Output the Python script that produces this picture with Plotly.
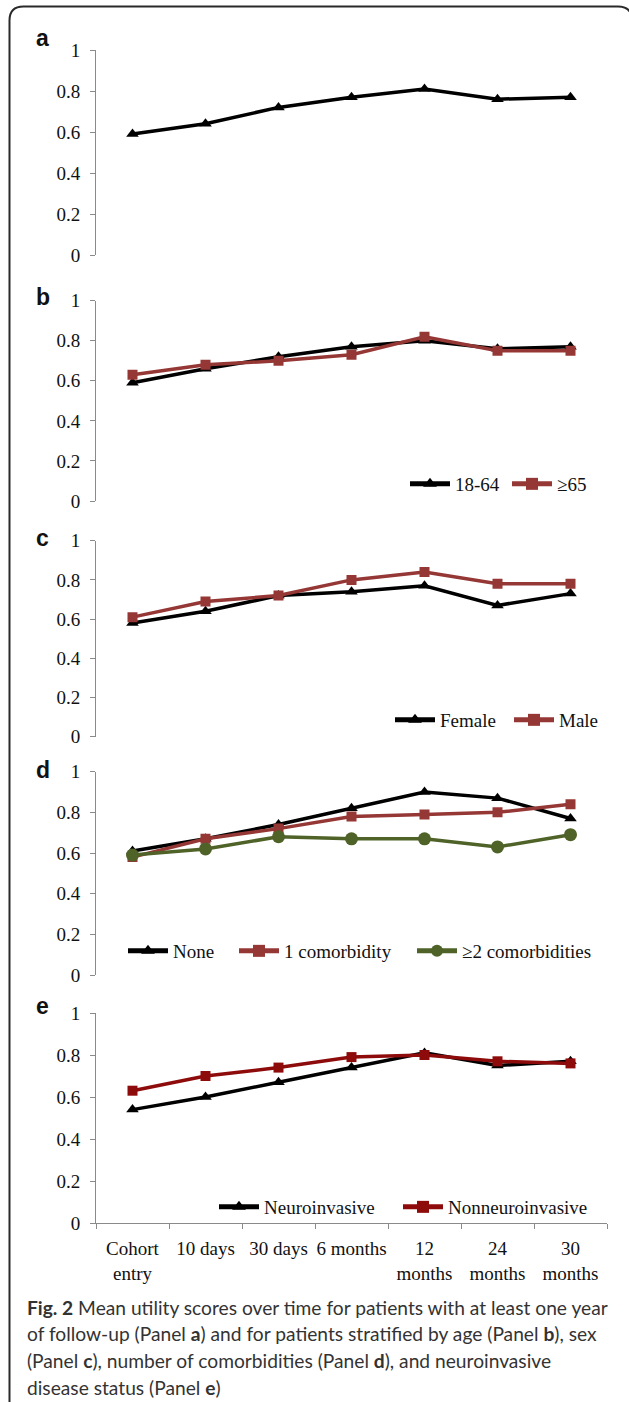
import plotly.graph_objects as go

W, H = 629, 1402

# ---------------- data ----------------
categories = ["Cohort<br>entry", "10 days", "30 days", "6 months",
              "12<br>months", "24<br>months", "30<br>months"]
y_tickvals = [0, 0.2, 0.4, 0.6, 0.8, 1]
y_ticktext = ["0", "0.2", "0.4", "0.6", "0.8", "1"]

overall = [0.59, 0.64, 0.72, 0.77, 0.81, 0.76, 0.77]
age_18_64 = [0.59, 0.66, 0.72, 0.77, 0.80, 0.76, 0.77]
age_65_plus = [0.63, 0.68, 0.70, 0.73, 0.82, 0.75, 0.75]
female = [0.58, 0.64, 0.72, 0.74, 0.77, 0.67, 0.73]
male = [0.61, 0.69, 0.72, 0.80, 0.84, 0.78, 0.78]
como_none = [0.61, 0.67, 0.74, 0.82, 0.90, 0.87, 0.77]
como_one = [0.58, 0.67, 0.72, 0.78, 0.79, 0.80, 0.84]
como_two_plus = [0.59, 0.62, 0.68, 0.67, 0.67, 0.63, 0.69]
neuroinvasive = [0.54, 0.60, 0.67, 0.74, 0.81, 0.75, 0.77]
nonneuroinvasive = [0.63, 0.70, 0.74, 0.79, 0.80, 0.77, 0.76]

panel_letters = ["a", "b", "c", "d", "e"]
caption_lines = [
    "<b>Fig. 2</b> Mean utility scores over time for patients with at least one year",
    "of follow-up (Panel <b>a</b>) and for patients stratified by age (Panel <b>b</b>), sex",
    "(Panel <b>c</b>), number of comorbidities (Panel <b>d</b>), and neuroinvasive",
    "disease status (Panel <b>e</b>)",
]

# ---------------- styles ----------------
SERIF = "Liberation Serif, Times New Roman, serif"
SANS = "Liberation Sans, Arial, sans-serif"
CAPF = "Lato, Open Sans, sans-serif"
BLACK = "#000000"
RED = "#953735"
DARKRED = "#8E0B0B"
GREEN = "#4F6228"
AXIS_GREY = "#8a8a8a"
TXT = "#111111"
FS = 19

# pixel geometry of each panel: (y pixel of value 1, y pixel of value 0)
panel_px = [(50, 255), (300.7, 501), (540.7, 736.7), (771.7, 975), (1013, 1223)]
x_px = (96, 607)

# legend anchors (left px, centre y px)
legend_px = [None, (405, 484), (390, 720), (123, 951), (214, 1207)]

# (name, values, colour, symbol, marker size, legend entry width)
panel_series = [
    [("Overall", overall, BLACK, "triangle-up", 11, 0)],
    [("18-64", age_18_64, BLACK, "triangle-up", 11, 47),
     ("\u226565", age_65_plus, RED, "square", 10, 40)],
    [("Female", female, BLACK, "triangle-up", 11, 64),
     ("Male", male, RED, "square", 10, 45)],
    [("None", como_none, BLACK, "triangle-up", 11, 56),
     ("1 comorbidity", como_one, RED, "square", 10, 123),
     ("\u22652 comorbidities", como_two_plus, GREEN, "circle", 13, 140)],
    [("Neuroinvasive", neuroinvasive, BLACK, "triangle-up", 11, 129),
     ("Nonneuroinvasive", nonneuroinvasive, DARKRED, "square", 10, 150)],
]

fig = go.Figure()
layout = dict(
    width=W, height=H,
    margin=dict(l=0, r=0, t=0, b=0, autoexpand=False),
    paper_bgcolor="white", plot_bgcolor="white",
    showlegend=True,
)

legend_names = {1: "legend", 2: "legend2", 3: "legend3", 4: "legend4"}

for i, series in enumerate(panel_series):
    n = i + 1
    xa = "x" if n == 1 else f"x{n}"
    ya = "y" if n == 1 else f"y{n}"
    for (name, vals, col, sym, ms, lw) in series:
        kw = {}
        if lw:
            kw["legendwidth"] = lw
        fig.add_trace(go.Scatter(
            x=categories, y=vals, name=name, mode="lines+markers",
            line=dict(color=col, width=3.5),
            marker=dict(symbol=sym, size=ms, color=col),
            xaxis=xa, yaxis=ya,
            showlegend=(i > 0),
            legend=legend_names.get(i, "legend"),
            **kw,
        ))
    top, bot = panel_px[i]
    layout["xaxis" if n == 1 else f"xaxis{n}"] = dict(
        domain=[x_px[0] / W, x_px[1] / W],
        anchor=ya, type="category", range=[-0.5, 6.5],
        showgrid=False, zeroline=False,
        showline=(n == 5), linecolor=AXIS_GREY, linewidth=1,
        ticks="outside" if n == 5 else "", ticklen=5, tickcolor=AXIS_GREY,
        tickson="boundaries", tickangle=0,
        ticklabelstandoff=8,
        showticklabels=(n == 5),
        tickfont=dict(family=SERIF, size=FS, color=TXT),
        automargin=False,
        fixedrange=True,
    )
    layout["yaxis" if n == 1 else f"yaxis{n}"] = dict(
        domain=[1 - bot / H, 1 - top / H],
        anchor=xa, range=[0, 1],
        showgrid=False, zeroline=False,
        showline=True, linecolor=AXIS_GREY, linewidth=1,
        ticks="outside", ticklen=5, tickcolor=AXIS_GREY,
        tickvals=y_tickvals, ticktext=y_ticktext,
        ticklabelstandoff=6,
        tickfont=dict(family=SERIF, size=FS, color=TXT),
        automargin=False,
        fixedrange=True,
    )
    if i > 0:
        lx, ly = legend_px[i]
        layout[legend_names[i]] = dict(
            orientation="h", x=lx / W, xanchor="left",
            y=1 - ly / H, yanchor="middle",
            bgcolor="rgba(0,0,0,0)", borderwidth=0,
            font=dict(family=SERIF, size=FS, color=TXT),
            itemsizing="constant", traceorder="normal",
            itemwidth=40, entrywidthmode="pixels",
        )

annotations = []
letter_y = [38, 297, 538, 770, 1006]
for L, yy in zip(panel_letters, letter_y):
    annotations.append(dict(
        text=f"<b>{L}</b>", x=34 / W, y=1 - yy / H, xref="paper", yref="paper",
        xanchor="left", yanchor="middle", showarrow=False,
        font=dict(family=SANS, size=23, color="#111111"),
    ))
cap_y = [1307, 1333, 1360, 1387]
for t, yy in zip(caption_lines, cap_y):
    annotations.append(dict(
        text=t, x=25 / W, y=1 - yy / H, xref="paper", yref="paper",
        xanchor="left", yanchor="middle", showarrow=False,
        font=dict(family=CAPF, size=19.2, color="#333333"),
    ))
layout["annotations"] = annotations

# rounded frame (right and bottom edges fall outside the image)
def px(x, y):
    return f"{x / W:.5f},{1 - y / H:.5f}"
r = 14
left, top, right, bottom = 9.5, 6.5, 632, 1420
path = (f"M{px(left, bottom)} L{px(left, top + r)} Q{px(left, top)} {px(left + r, top)} "
        f"L{px(right - r, top)} Q{px(right, top)} {px(right, top + r)} L{px(right, bottom)}")
layout["shapes"] = [dict(type="path", path=path, xref="paper", yref="paper",
                         line=dict(color="#2a2a2a", width=2))]

fig.update_layout(**layout)
fig.write_html(
    "out.html",
    config={"displayModeBar": False},
    post_script=(
        "document.documentElement.style.margin='0';"
        "document.body.style.margin='0';document.body.style.overflow='hidden';"
        "var gd=document.getElementById('{plot_id}');"
        "gd.style.position='fixed';gd.style.top='0px';gd.style.left='0px';"
    ),
)
